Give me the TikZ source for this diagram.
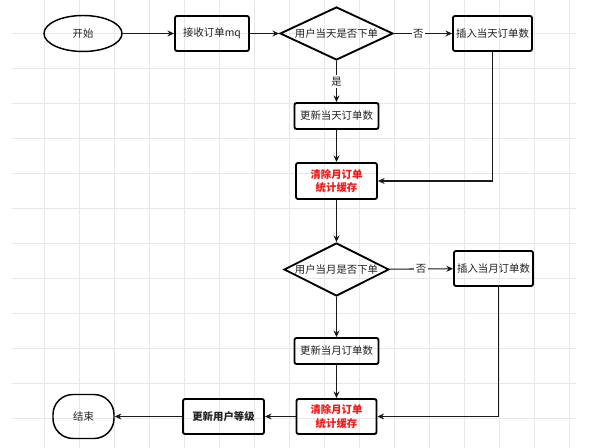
\documentclass[tikz,border=0pt]{standalone}
\usepackage{fontspec}
\newfontfamily\cjk{Noto Sans CJK SC}
\usetikzlibrary{shapes.geometric,arrows.meta}
\definecolor{gridc}{HTML}{E8E8E8}
\definecolor{txt}{HTML}{222222}
\definecolor{hot}{HTML}{F01818}
\begin{document}
\begin{tikzpicture}[x=0.75pt,y=-0.75pt,
  every node/.style={font=\cjk\fontsize{7.8}{9.8}\selectfont, text=txt},
  box/.style={draw=black, line width=1.4pt, rounded corners=1.5pt, inner sep=0pt, align=center},
  hotbox/.style={box, text=hot, font=\cjk\bfseries\fontsize{7.8}{9.8}\selectfont},
  dia/.style={draw=black, diamond, line width=1.4pt, inner sep=0pt},
  conn/.style={line width=0.8pt, draw=black!90, -{Stealth[length=5pt,width=4.5pt]}},
  lbl/.style={fill=white, inner sep=1.2pt},
  gridline/.style={draw=gridc, line width=0.6pt}]
\useasboundingbox (0,0) rectangle (604,448);
\fill[white] (0,0) rectangle (604,448);
% grid
\foreach \x in {44,79,...,569} \draw[gridline] (\x,0) -- (\x,448);
\foreach \y in {33,68,...,418} \draw[gridline] (12,\y) -- (576,\y);
% nodes
\node[draw=black, ellipse, line width=1.1pt, minimum width=58.5pt, minimum height=27pt, inner sep=0pt] (start) at (83,33.5) {开始};
\node[box, minimum width=55.5pt, minimum height=26.25pt] (mq) at (212,33.5) {接收订单mq};
\node[dia, minimum width=84.75pt, minimum height=39.75pt] (d1) at (336.5,33.5) {};
\node at (d1) {用户当天是否下单};
\node[box, minimum width=59.25pt, minimum height=26.25pt] (ins1) at (492.5,33.5) {插入当天订单数};
\node[box, minimum width=63pt, minimum height=19.5pt] (upd1) at (336.5,116) {更新当天订单数};
\node[hotbox, minimum width=60.75pt, minimum height=27pt] (clr1) at (336.5,181) {清除月订单\\统计缓存};
\node[dia, minimum width=78.75pt, minimum height=39.75pt] (d2) at (336.5,269.5) {};
\node at (d2) {用户当月是否下单};
\node[box, minimum width=59.25pt, minimum height=26.25pt] (ins2) at (493.5,268.5) {插入当月订单数};
\node[box, minimum width=63pt, minimum height=19.5pt] (upd2) at (336.5,351) {更新当月订单数};
\node[hotbox, minimum width=60pt, minimum height=26.25pt] (clr2) at (336.5,416.5) {清除月订单\\统计缓存};
\node[box, font=\cjk\bfseries\fontsize{7.8}{9.8}\selectfont, minimum width=60.75pt, minimum height=26.25pt] (lvl) at (223.5,416.5) {更新用户等级};
\node[draw=black, line width=1.1pt, rounded corners=15pt, minimum width=45.75pt, minimum height=33pt, inner sep=0pt] (end) at (83.5,416.5) {结束};
% connectors
\draw[conn] (start) -- (mq);
\draw[conn] (mq) -- (d1);
\draw[conn] (d1) -- node[lbl, pos=0.42] {否} (ins1);
\draw[conn] (d1) -- node[lbl] {是} (upd1);
\draw[conn] (upd1) -- (clr1);
\draw[conn] (ins1.south) |- (clr1.east);
\draw[conn] (clr1) -- (d2);
\draw[conn] (d2) -- node[lbl, pos=0.5] {否} (ins2);
\draw[conn] (d2) -- (upd2);
\draw[conn] (upd2) -- (clr2);
\draw[conn] ([xshift=3.4pt]ins2.south) |- (clr2.east);
\draw[conn] (clr2) -- (lvl);
\draw[conn] (lvl) -- (end);
\end{tikzpicture}
\end{document}
